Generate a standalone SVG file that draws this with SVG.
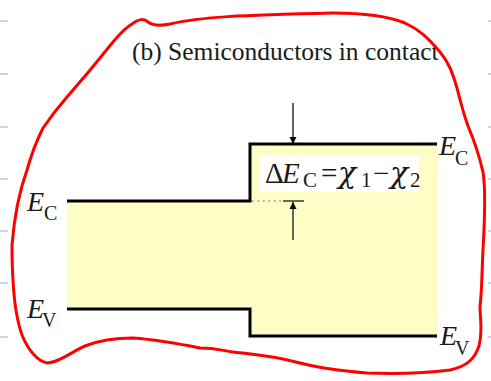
<svg xmlns="http://www.w3.org/2000/svg" width="491" height="381" viewBox="0 0 491 381">
<defs>
<style>
.tick{stroke:#a9cce2;stroke-width:1.5}
.band{fill:none;stroke:#000;stroke-width:3}
.lbl{font-family:"Liberation Serif","Times New Roman",serif;fill:#1a1a1a}
.it{font-style:italic}
.chi{font-family:"DejaVu Serif",serif;font-style:italic;font-size:30px}
.arr{stroke:#000;stroke-width:1.2;fill:none}
</style>
<marker id="ah" viewBox="0 0 10 10" refX="10" refY="5" markerWidth="7" markerHeight="9" markerUnits="userSpaceOnUse" orient="auto">
<path d="M0,0 L10,5 L0,10 z" fill="#000"/>
</marker>
</defs>
<rect width="491" height="381" fill="#fff"/>
<g id="ticks">
<path class="tick" d="M0,21H8M0,74H8M0,127H8M0,179H8M0,231H8M0,283H8M0,337H8"/>
<path class="tick" d="M488,21H491M488,74H491M488,127H491M488,179H491M488,231H491M488,283H491M488,337H491"/>
</g>
<g id="bands">
<path d="M67,201H250V144H437V336H250V309H67Z" fill="#fffdc6"/>
<path class="band" d="M67,201H250V144H437"/>
<path class="band" d="M67,309H250V336H437"/>
</g>
<g id="title">
<text class="lbl" x="132" y="60" font-size="25.5">(b) Semiconductors in contact</text>
</g>
<g id="labels">
<text class="lbl" x="27" y="211" font-size="28"><tspan class="it">E</tspan><tspan x="44" y="220" font-size="20">C</tspan></text>
<text class="lbl" x="27" y="318" font-size="28"><tspan class="it">E</tspan><tspan x="42" y="327" font-size="20">V</tspan></text>
<text class="lbl" x="439" y="155" font-size="28"><tspan class="it">E</tspan><tspan x="455" y="165" font-size="20">C</tspan></text>
<text class="lbl" x="440" y="345" font-size="28"><tspan class="it">E</tspan><tspan x="455" y="355" font-size="20">V</tspan></text>
</g>
<g id="delta">
<rect x="260" y="155" width="159" height="37" fill="#fff"/>
<text class="lbl" font-size="29" y="183"><tspan x="265">Δ</tspan><tspan x="282" class="it">E</tspan><tspan x="303" y="187" font-size="21">C</tspan><tspan x="321" y="183">=</tspan><tspan x="338" class="chi">χ</tspan><tspan x="361" y="187" font-size="21">1</tspan><tspan x="373" y="183">−</tspan><tspan x="390" class="chi">χ</tspan><tspan x="410" y="187" font-size="21">2</tspan></text>
</g>
<g id="connectors">
<line class="arr" x1="293" y1="103" x2="293" y2="144" marker-end="url(#ah)"/>
<line class="arr" x1="293" y1="240" x2="293" y2="202" marker-end="url(#ah)"/>
<line x1="283" y1="201" x2="304" y2="201" stroke="#000" stroke-width="1.2"/>
<line x1="252" y1="201" x2="283" y2="201" stroke="#555" stroke-width="1.2" stroke-dasharray="1.5,4"/>
</g>
<g id="outline">
<path fill="none" stroke="#ff0000" stroke-width="3" stroke-linejoin="round" stroke-linecap="round" d="M43,128 C52,115 60,105 67,97 C80,82 92,68 100,58 C112,43 122,30 132,24 C138,19 144,18 148,22 C152,25 160,26 170,24 C200,17 240,15 333,13 C370,13 390,17 405,23 C420,30 428,38 440,52 C450,64 453,75 457,88 C460,100 463,112 468,126 C474,140 479,155 483,172 C486,190 485,215 483,250 C482,268 482,290 480,307 C480,318 483,330 479,346 C475,358 468,366 450,370 C420,374 395,374 367,373 C330,370 315,367 300,363 C270,355 250,354 233,352 C220,350 215,348 200,348 C180,344 160,340 133,338 C110,338 95,342 85,346 C73,351 60,362 48,363 C38,362 28,350 22,335 C16,318 14,300 13,280 C12,265 12,255 12,245 C14,220 18,195 27,170 C32,152 38,138 43,128 Z"/>
</g>
</svg>
